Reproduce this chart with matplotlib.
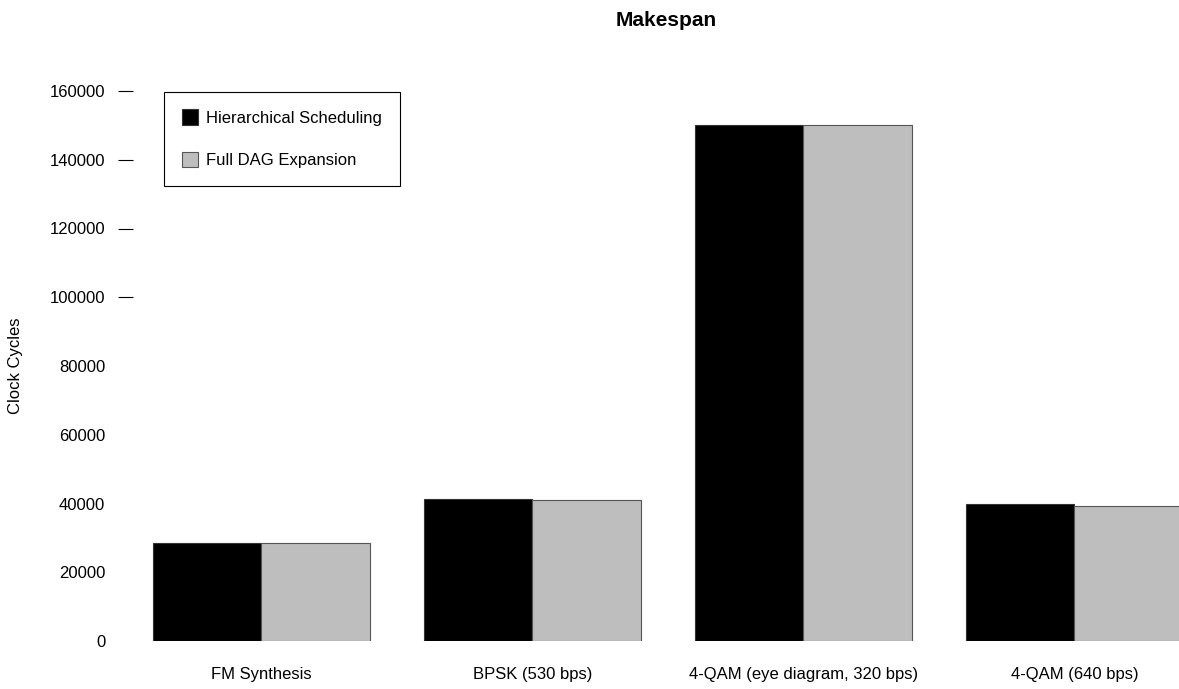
import matplotlib.pyplot as plt
import numpy as np

categories = ["FM Synthesis", "BPSK (530 bps)", "4-QAM (eye diagram, 320 bps)", "4-QAM (640 bps)"]
hierarchical = [28500, 41300, 150000, 39800]
full_dag = [28500, 41000, 150000, 39300]
series_names = ["Hierarchical Scheduling", "Full DAG Expansion"]
y_ticks = [0, 20000, 40000, 60000, 80000, 100000, 120000, 140000, 160000]
marked_ticks = [100000, 120000, 140000, 160000]

plt.rcParams['font.family'] = ['Liberation Sans', 'DejaVu Sans']

W, H = 1179, 689
fig = plt.figure(figsize=(W / 100, H / 100), dpi=100)

# axes placed in pixel terms: x from 133 to 1179, y from 91 (160000) to 641 (0)
ax = fig.add_axes([133 / W, (H - 641) / H, (W - 133) / W, 550 / H])

# R style barplot: bar width 1, 0.5 gap before each group
pos = 0.5 + 2.5 * np.arange(len(categories))
b1 = ax.bar(pos, hierarchical, width=1, align='edge', color='black', edgecolor='#333333', linewidth=0.8)
b2 = ax.bar(pos + 1, full_dag, width=1, align='edge', color='#bebebe', edgecolor='#555555', linewidth=0.8)

ax.set_xlim(0.3155, 9.965)
ax.set_ylim(0, 160000)

for s in ax.spines.values():
    s.set_visible(False)

ax.set_xticks(pos + 1)
ax.set_xticklabels(categories, fontsize=12)
ax.tick_params(axis='x', length=0, pad=19)

ax.set_yticks(y_ticks)
ax.set_yticklabels([str(v) for v in y_ticks], fontsize=12)
ax.tick_params(axis='y', which='major', length=0, pad=20)
ax.yaxis.remove_overlapping_locs = False
ax.set_yticks(marked_ticks, minor=True)
ax.tick_params(axis='y', which='minor', length=10.5, width=0.8, direction='out')

fig.text(16 / W, 1 - 366 / H, "Clock Cycles", rotation=90, ha='center', va='center', fontsize=12)
fig.text(666 / W, 1 - 21 / H, "Makespan", ha='center', va='center', fontsize=15, fontweight='bold')

leg = ax.legend([b1, b2], series_names, loc='upper left',
                bbox_to_anchor=(164 / W, 1 - 92 / H), bbox_transform=fig.transFigure,
                fancybox=False, edgecolor='black', framealpha=1, fontsize=12,
                handlelength=1.0, handleheight=1.05, handletextpad=0.5,
                labelspacing=1.55, borderpad=1.05, borderaxespad=0)
leg.get_frame().set_linewidth(0.8)

fig.savefig("out.png", dpi=100)
